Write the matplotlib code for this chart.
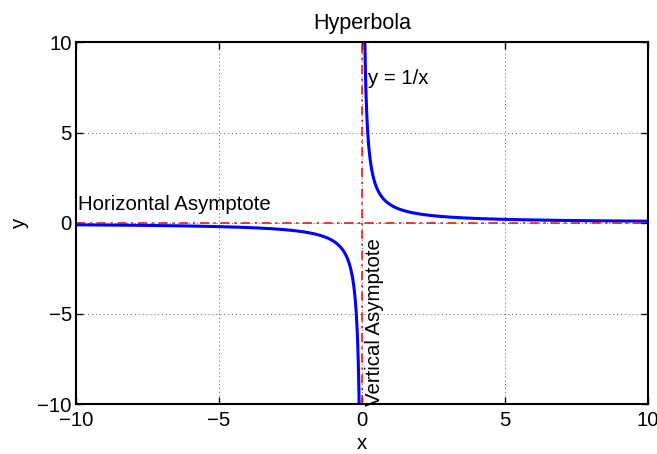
import numpy as np
import matplotlib.pyplot as plt

plt.rcParams["font.family"] = ["Liberation Sans", "DejaVu Sans"]
plt.rcParams["font.size"] = 14.7

X_LIMITS = [-10, 10]
Y_LIMITS = [-10, 10]
TICKS = [-10, -5, 0, 5, 10]
STEP = 0.01

# y = 1/x on both branches, skipping the pole at zero
x_left = np.arange(-10, -STEP / 2, STEP)
x_right = np.arange(STEP, 10 + STEP / 2, STEP)


def main():
    fig = plt.figure(figsize=(6.57, 4.54), dpi=100)
    ax = fig.add_axes([76 / 657, 50 / 454, 572 / 657, 362 / 454])

    ax.plot(x_left, 1 / x_left, color="blue", lw=2.2)
    ax.plot(x_right, 1 / x_right, color="blue", lw=2.2)

    # asymptotes
    ax.axhline(0, color="red", ls=(0, (6, 3, 1.5, 3)), lw=1.1)
    ax.axvline(0, color="red", ls=(0, (6, 3, 1.5, 3)), lw=1.1)

    ax.text(-9.93, 1, "Horizontal Asymptote", va="center", ha="left")
    ax.text(0.45, -10.1, "Vertical Asymptote", rotation=90, va="bottom", ha="center")
    ax.text(0.2, 8, "y = 1/x", va="center", ha="left")

    ax.set_xlim(X_LIMITS)
    ax.set_ylim(Y_LIMITS)
    ax.set_xticks(TICKS)
    ax.set_yticks(TICKS)
    ax.grid(True, ls=(0, (1, 3)), color="0.35", lw=0.7)
    ax.set_axisbelow(True)
    ax.tick_params(direction="in", length=5, top=True, right=True, width=1, pad=3)
    ax.tick_params(axis="x", pad=5)
    for s in ax.spines.values():
        s.set_linewidth(1.5)

    ax.set_title("Hyperbola", fontsize=15.5, pad=9)
    ax.set_xlabel("x", labelpad=3)
    ax.set_ylabel("y", labelpad=6)

    fig.savefig("out.png", dpi=100)


if __name__ == "__main__":
    main()
